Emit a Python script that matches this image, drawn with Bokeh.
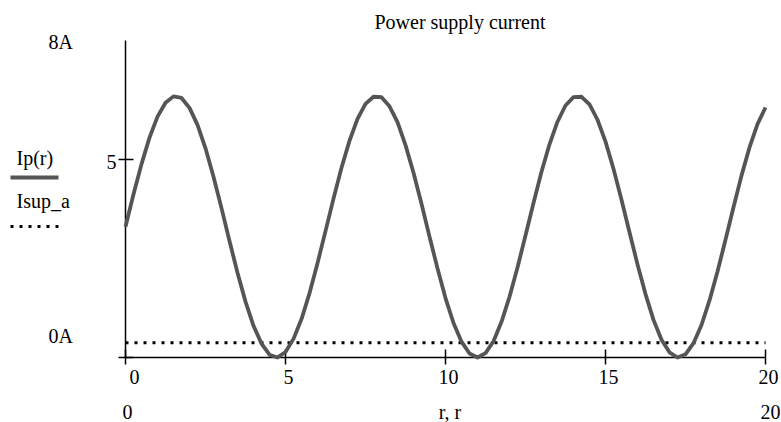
from bokeh.plotting import figure
from bokeh.models import Range1d
from bokeh.core.properties import value
from bokeh.embed import file_html
from bokeh.resources import INLINE

# ---- data ----
r_vals = [0.0, 0.25, 0.5, 0.75, 1.0, 1.25, 1.5, 1.75, 2.0, 2.25, 2.5, 2.75,
          3.0, 3.25, 3.5, 3.75, 4.0, 4.25, 4.5, 4.75, 5.0, 5.25, 5.5, 5.75,
          6.0, 6.25, 6.5, 6.75, 7.0, 7.25, 7.5, 7.75, 8.0, 8.25, 8.5, 8.75,
          9.0, 9.25, 9.5, 9.75, 10.0, 10.25, 10.5, 10.75, 11.0, 11.25, 11.5, 11.75,
          12.0, 12.25, 12.5, 12.75, 13.0, 13.25, 13.5, 13.75, 14.0, 14.25, 14.5, 14.75,
          15.0, 15.25, 15.5, 15.75, 16.0, 16.25, 16.5, 16.75, 17.0, 17.25, 17.5, 17.75,
          18.0, 18.25, 18.5, 18.75, 19.0, 19.25, 19.5, 19.75, 20.0]
ip_vals = [3.30, 4.12, 4.88, 5.55, 6.08, 6.43, 6.59, 6.55, 6.30, 5.87, 5.28, 4.56,
           3.77, 2.94, 2.14, 1.41, 0.80, 0.35, 0.07, 0.00, 0.14, 0.47, 0.97, 1.62,
           2.38, 3.19, 4.01, 4.79, 5.47, 6.02, 6.40, 6.58, 6.57, 6.34, 5.94, 5.36,
           4.66, 3.88, 3.05, 2.25, 1.50, 0.87, 0.40, 0.10, 0.00, 0.11, 0.41, 0.90,
           1.53, 2.27, 3.08, 3.90, 4.69, 5.38, 5.95, 6.36, 6.57, 6.58, 6.39, 6.00,
           5.45, 4.76, 3.98, 3.16, 2.35, 1.60, 0.95, 0.45, 0.13, 0.00, 0.08, 0.36,
           0.82, 1.44, 2.17, 2.97, 3.79, 4.59, 5.30, 5.89, 6.31]
isup_r = [0.0, 20.0]
isup_vals = [0.37, 0.37]
x_ticks = [0, 5, 10, 15, 20]
x_tick_labels = ["0", "5", "10", "15", "20"]
y_ticks = [0, 5]
y_tick_labels = ["", "5"]
x_min, x_max = 0, 20
y_min, y_max = 0, 8
title_text = "Power supply current"
y_top_label = "8A"
y_bottom_label = "0A"
x_left_label = "0"
x_right_label = "20"
x_name_label = "r, r"
series_names = ["Ip(r)", "Isup_a"]

# ---- layout (pixels of the 781x422 picture) ----
W, H = 781, 422
FX0, FX1 = 125, 765     # plot area left / right
FY0, FY1 = 40, 357      # plot area top / bottom
TXT_SHIFT = 8           # baseline correction for text glyphs
FONT = value("Liberation Serif")
FS = value("20px")
CURVE = "#555555"

kx = (x_max - x_min) / (FX1 - FX0)
ky = (y_max - y_min) / (FY1 - FY0)

def dx(px):
    return x_min + (px - FX0) * kx

def dy(py):
    return y_min + (FY1 - py) * ky

p = figure(width=W, height=H, output_backend="svg", toolbar_location=None,
           x_range=Range1d(dx(0), dx(W)), y_range=Range1d(dy(H), dy(0)),
           min_border=0, x_axis_location=None, y_axis_location=None)
p.outline_line_color = None
p.xgrid.visible = False
p.ygrid.visible = False
p.background_fill_color = "white"
p.border_fill_color = "white"

# axes lines and ticks
p.segment(x0=[x_min], y0=[y_min], x1=[x_max], y1=[y_min], line_color="black", line_width=1.5)
p.segment(x0=[x_min], y0=[y_min], x1=[x_min], y1=[y_max], line_color="black", line_width=1.5)
p.segment(x0=x_ticks, y0=[dy(FY1 - 8)] * len(x_ticks), x1=x_ticks,
          y1=[dy(FY1 + 7)] * len(x_ticks), line_color="black", line_width=1.5)
p.segment(x0=[dx(FX0 - 7)] * len(y_ticks), y0=y_ticks, x1=[dx(FX0 + 8)] * len(y_ticks),
          y1=y_ticks, line_color="black", line_width=1.5)

# tick labels
p.text(x=x_ticks, y=[dy(384 - TXT_SHIFT)] * len(x_ticks), text=x_tick_labels,
       x_offset=[9, 3, 3, 3, 3], text_font=FONT, text_font_size=FS,
       text_color="black", text_align="center", text_baseline="alphabetic")
p.text(x=[dx(116)] * len(y_ticks), y=y_ticks, text=y_tick_labels,
       y_offset=[13 - TXT_SHIFT, 11 - TXT_SHIFT],
       text_font=FONT, text_font_size=FS, text_color="black",
       text_align="right", text_baseline="alphabetic")

# series
p.line(isup_r, isup_vals, line_color="black", line_width=3, line_dash="3 6")
p.line(r_vals, ip_vals, line_color=CURVE, line_width=3.8, line_join="round")

# other texts
def lab(text, px, py, align="left"):
    p.text(x=[dx(px)], y=[dy(py - TXT_SHIFT)], text=[text], text_font=FONT,
           text_font_size=FS, text_color="black", text_align=align,
           text_baseline="alphabetic")

lab(title_text, 459.5, 29, "center")
lab(y_top_label, 48, 49)
lab(y_bottom_label, 48, 343)
lab(series_names[0], 16, 165)
lab(series_names[1], 16, 208)
lab(x_left_label, 122, 419)
lab(x_name_label, 449.5, 419, "center")
lab(x_right_label, 780, 419, "right")

# legend samples
p.line([dx(10), dx(58)], [dy(177), dy(177)], line_color=CURVE, line_width=3.8)
p.line([dx(10), dx(58)], [dy(226), dy(226)], line_color="black", line_width=3,
       line_dash="3 6")

open("out.html", "w").write(file_html(p, INLINE))
